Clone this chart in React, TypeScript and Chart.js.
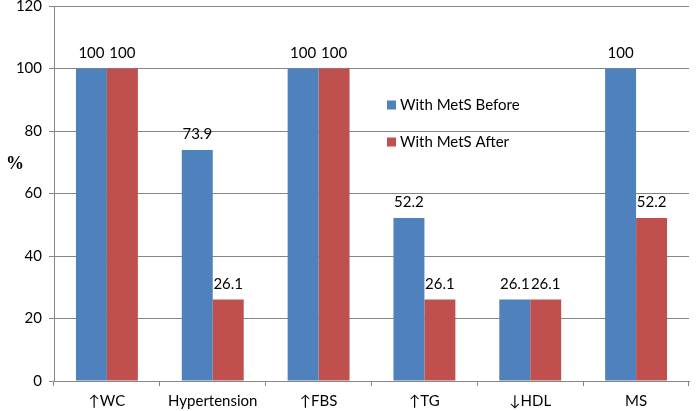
import React, { useEffect, useRef } from "react";
import { Chart, registerables } from "chart.js";

Chart.register(...registerables);

const categories = ["↑WC", "Hypertension", "↑FBS", "↑TG", "↓HDL", "MS"];
const beforeValues = [100, 73.9, 100, 52.2, 26.1, 100];
const afterValues = [100, 26.1, 100, 26.1, 26.1, 52.2];
const seriesLabels = ["With MetS Before", "With MetS After"];
const yTicks = [0, 20, 40, 60, 80, 100, 120];

const FONT = "Lato, 'Noto Sans', sans-serif";
const BLUE = "#4F81BD";
const RED = "#C0504D";

const valueLabels = {
  id: "valueLabels",
  afterDatasetsDraw(chart: any) {
    const ctx = chart.ctx;
    ctx.save();
    ctx.font = `15px ${FONT}`;
    ctx.fillStyle = "#000";
    ctx.textAlign = "center";
    ctx.textBaseline = "bottom";
    chart.data.datasets.forEach((ds: any, i: number) => {
      const meta = chart.getDatasetMeta(i);
      meta.data.forEach((bar: any, j: number) => {
        ctx.fillText(String(ds.data[j]), bar.x, bar.y - 8);
      });
    });
    ctx.restore();
  },
};

const innerLegend = {
  id: "innerLegend",
  afterDraw(chart: any) {
    const ctx = chart.ctx;
    const a = chart.chartArea;
    ctx.save();
    ctx.font = `15px ${FONT}`;
    ctx.textBaseline = "middle";
    ctx.textAlign = "left";
    const x0 = a.left + 333;
    const ys = [a.top + 99, a.top + 136];
    chart.data.datasets.forEach((ds: any, i: number) => {
      ctx.fillStyle = ds.backgroundColor;
      ctx.fillRect(x0, ys[i] - 4.5, 9, 9);
      ctx.fillStyle = "#000";
      ctx.fillText(ds.label, x0 + 13, ys[i]);
    });
    // y-axis title "%"
    ctx.font = "bold 18px 'Liberation Serif', 'DejaVu Serif', serif";
    ctx.textAlign = "center";
    ctx.fillText("%", 15, a.top + 158);
    ctx.restore();
  },
};

export default function App() {
  const ref = useRef<HTMLCanvasElement>(null);
  useEffect(() => {
    document.body.style.margin = "0";
    const chart = new Chart(ref.current!, {
      type: "bar",
      data: {
        labels: categories,
        datasets: [
          { label: seriesLabels[0], data: beforeValues, backgroundColor: BLUE, categoryPercentage: 0.585, barPercentage: 1.0 },
          { label: seriesLabels[1], data: afterValues, backgroundColor: RED, categoryPercentage: 0.585, barPercentage: 1.0 },
        ],
      },
      options: {
        animation: false,
        responsive: false,
        devicePixelRatio: 1,
        layout: { padding: { top: 6, right: 7, left: 0, bottom: 0 } },
        plugins: { legend: { display: false }, tooltip: { enabled: false } },
        scales: {
          x: {
            afterFit: (s: any) => { s.height = 30; s.paddingLeft = 0; s.paddingRight = 0; },
            grid: { drawOnChartArea: false, drawTicks: true, tickLength: 5, color: "#868686", offset: true },
            border: { color: "#868686" },
            ticks: { color: "#000", font: { family: FONT, size: 15 }, padding: 6, maxRotation: 0, autoSkip: false },
          },
          y: {
            min: 0,
            max: 120,
            afterFit: (s: any) => { s.width = 54; s.paddingTop = 0; s.paddingBottom = 0; },
            afterBuildTicks: (s: any) => { s.ticks = yTicks.map((v) => ({ value: v })); },
            grid: { color: "#868686", tickLength: 5, drawTicks: true },
            border: { color: "#868686" },
            ticks: { color: "#000", font: { family: FONT, size: 15 }, padding: 7 },
          },
        },
      },
      plugins: [valueLabels, innerLegend],
    });
    return () => chart.destroy();
  }, []);
  return <canvas ref={ref} width={696} height={411} style={{ display: "block" }} />;
}
